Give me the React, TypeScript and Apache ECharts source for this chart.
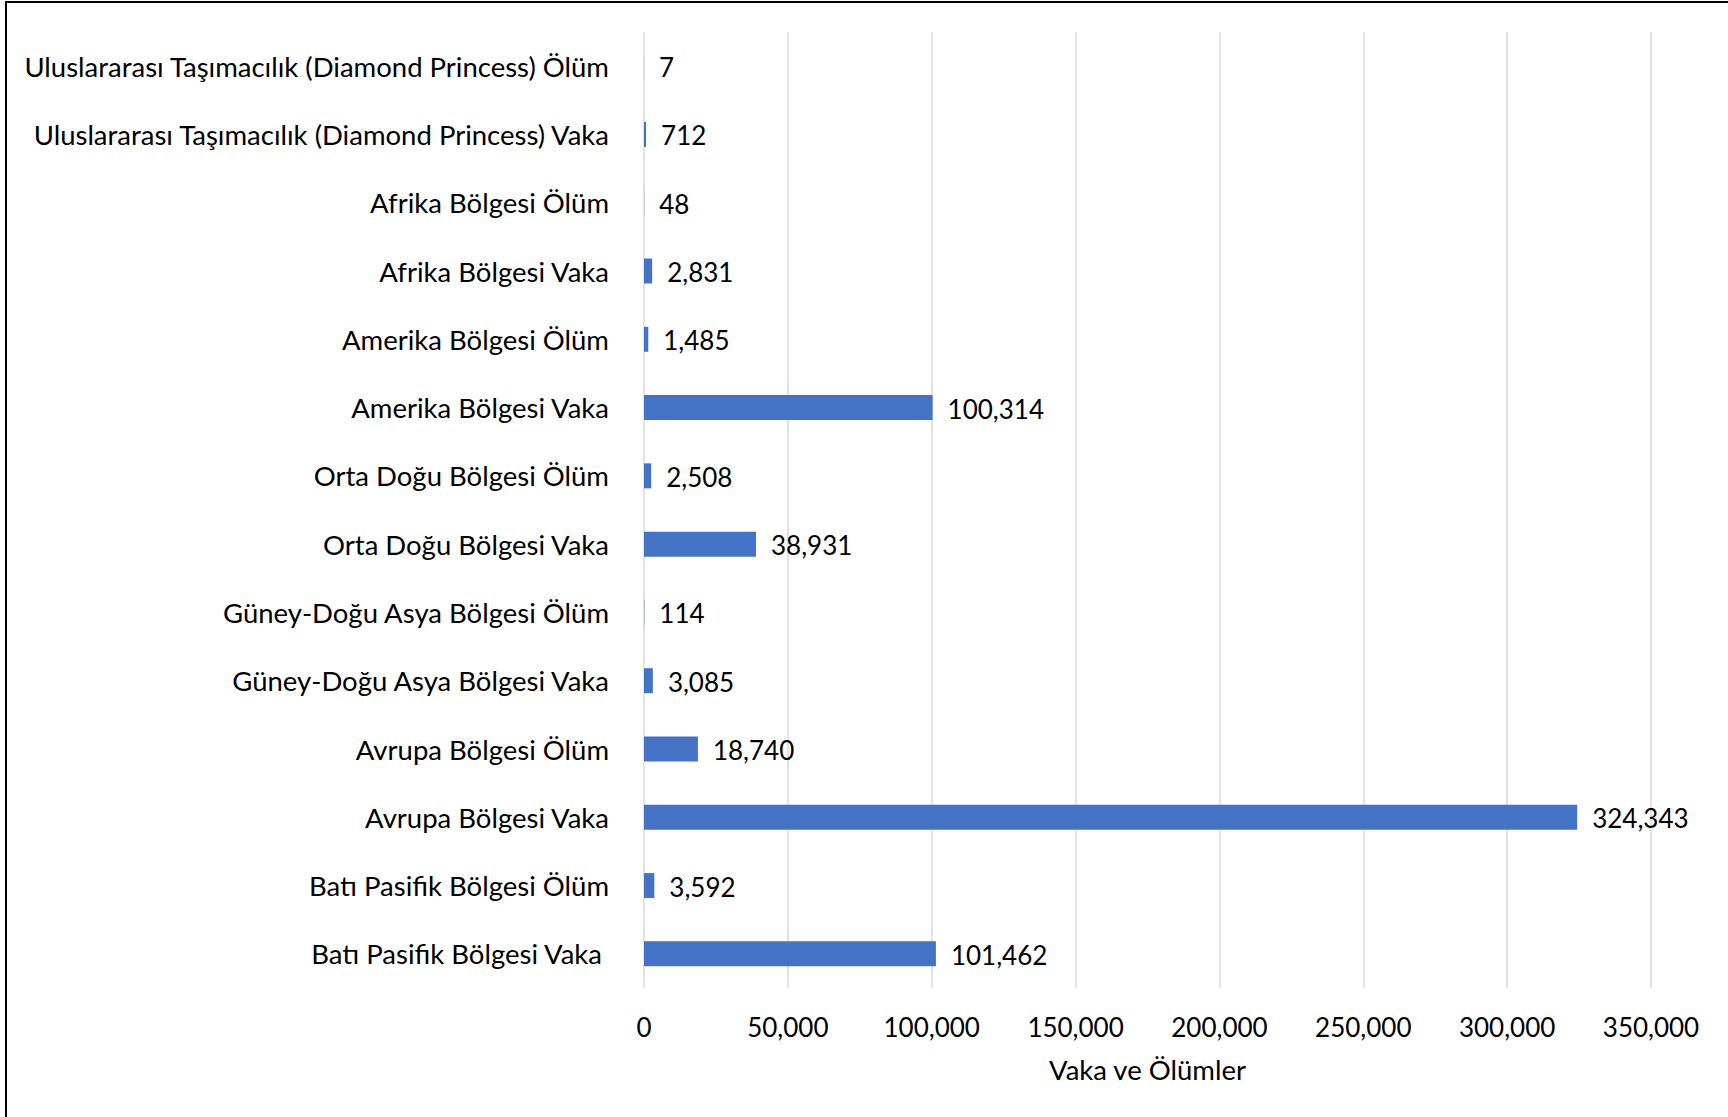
import React, { useEffect, useRef } from "react";
import * as echarts from "echarts";

const categories: string[] = [
  "Uluslararası Taşımacılık (Diamond Princess) Ölüm",
  "Uluslararası Taşımacılık (Diamond Princess) Vaka",
  "Afrika Bölgesi Ölüm",
  "Afrika Bölgesi Vaka",
  "Amerika Bölgesi Ölüm",
  "Amerika Bölgesi Vaka",
  "Orta Doğu Bölgesi Ölüm",
  "Orta Doğu Bölgesi Vaka",
  "Güney-Doğu Asya Bölgesi Ölüm",
  "Güney-Doğu Asya Bölgesi Vaka",
  "Avrupa Bölgesi Ölüm",
  "Avrupa Bölgesi Vaka",
  "Batı Pasifik Bölgesi Ölüm",
  "Batı Pasifik Bölgesi Vaka ",
];

const values: number[] = [
  7, 712, 48, 2831, 1485, 100314, 2508, 38931, 114, 3085, 18740, 324343, 3592, 101462,
];

const axisName = "Vaka ve Ölümler";
const axisMin = 0;
const axisMax = 350000;
const axisStep = 50000;

const FONT = "Lato";
const FS_NUM = 26;
const FS_TXT = 27.5;

const fmt = (v: number) => v.toLocaleString("en-US");

export default function App() {
  const ref = useRef<HTMLDivElement>(null);
  useEffect(() => {
    if (!ref.current) return;
    const chart = echarts.init(ref.current, null, { renderer: "svg" });
    chart.setOption({
      animation: false,
      backgroundColor: "#ffffff",
      grid: { left: 644, right: 77, top: 32, height: 956 },
      xAxis: {
        type: "value",
        min: axisMin,
        max: axisMax,
        interval: axisStep,
        name: axisName,
        nameLocation: "middle",
        nameGap: 67,
        nameTextStyle: { fontFamily: FONT, fontSize: FS_TXT, color: "#000" },
        axisLine: { show: false },
        axisTick: { show: false },
        axisLabel: {
          margin: 26,
          fontFamily: FONT,
          fontSize: FS_NUM,
          color: "#000",
          formatter: (v: number) => fmt(v),
        },
        splitLine: { show: true, lineStyle: { color: "#d9d9d9", width: 1.5 } },
      },
      yAxis: {
        type: "category",
        data: categories,
        inverse: true,
        axisLine: { show: false },
        axisTick: { show: false },
        axisLabel: { margin: 35, fontFamily: FONT, fontSize: FS_TXT, color: "#000" },
        splitLine: { show: false },
      },
      series: [
        {
          type: "bar",
          data: values,
          barWidth: 25,
          itemStyle: { color: "#4472C4" },
          label: {
            show: true,
            position: "right",
            distance: 15,
            fontFamily: FONT,
            fontSize: FS_NUM,
            color: "#000",
            offset: [0, 1],
            formatter: (p: any) => fmt(p.value),
          },
        },
      ],
      graphic: [
        {
          type: "line",
          shape: { x1: 6, y1: 2, x2: 6, y2: 1117 },
          style: { stroke: "#000", lineWidth: 2 },
        },
        {
          type: "line",
          shape: { x1: 5, y1: 2, x2: 1728, y2: 2 },
          style: { stroke: "#000", lineWidth: 2 },
        },
      ],
    });
    return () => chart.dispose();
  }, []);
  return (
    <div
      ref={ref}
      style={{ position: "absolute", left: 0, top: 0, width: 1728, height: 1117 }}
    />
  );
}
